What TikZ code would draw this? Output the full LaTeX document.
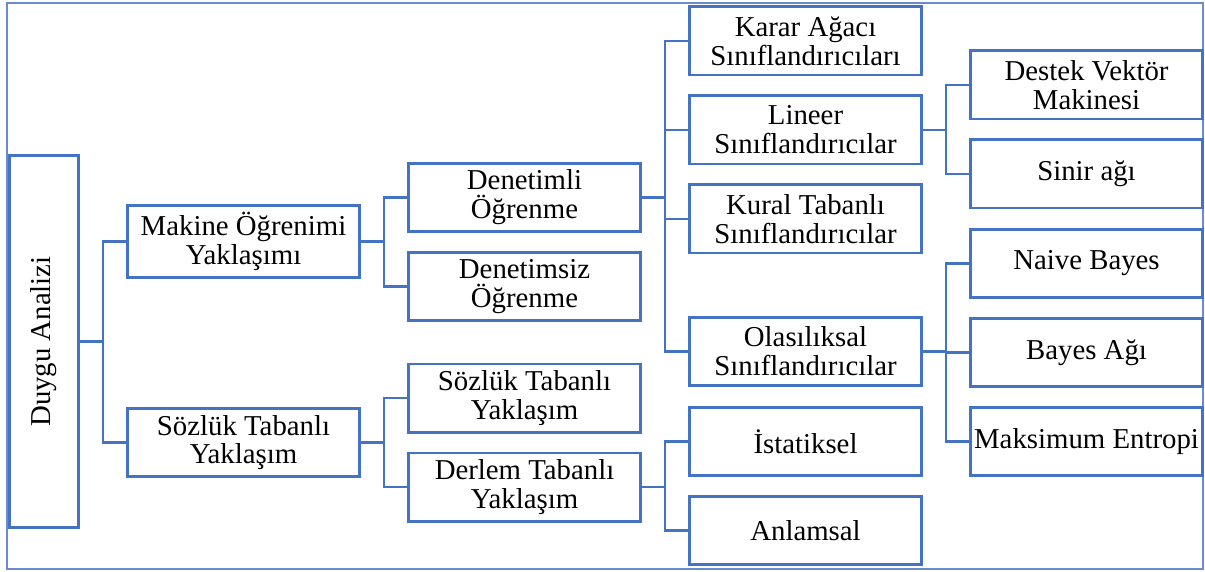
\documentclass[tikz,border=0pt]{standalone}
\usepackage{graphicx}
\usepackage{fontspec}
\setmainfont{Liberation Serif}
\usetikzlibrary{%
  positioning
}
\definecolor{boxblue}{HTML}{4472C4}
\definecolor{frameblue}{HTML}{6A8CCE}
\tikzstyle{tree}=[on grid,node distance=44.5pt,font=\fontsize{14.4}{14.4}\selectfont]
\tikzstyle{box}=[rectangle,draw=boxblue,line width=1.3pt,minimum width=116.2pt,minimum height=34.2pt,inner xsep=1pt,align=center]
\tikzstyle{conn}=[draw=boxblue,line width=1.3pt]

\begin{document}
\begin{tikzpicture}[tree]
  \useasboundingbox (0,0) rectangle (602.5pt,-286pt);
  \draw[frameblue,line width=0.9pt] (3.5pt,-1.5pt) rectangle (601.5pt,-284.5pt);
  \node[box,minimum width=34.7pt,minimum height=186.2pt] (duygu) at (22pt,-170.75pt) {\rotatebox{90}{Duygu Analizi}};
% first level
  \node[box,above right=50pt and 99.75pt of duygu] (makine) {Makine Öğrenimi\\Yaklaşımı};
  \node[box,below right=50.5pt and 99.75pt of duygu] (sozluk) {Sözlük Tabanlı\\Yaklaşım};
% second level
  \node[box,above right=22pt and 140.5pt of makine] (denetimli) {Denetimli\\Öğrenme};
  \node[box,below=of denetimli] (denetimsiz) {Denetimsiz\\Öğrenme};
  \node[box,above right=22.25pt and 140.5pt of sozluk] (sozlukt) {Sözlük Tabanlı\\Yaklaşım};
  \node[box,below=of sozlukt] (derlem) {Derlem Tabanlı\\Yaklaşım};
% third level
  \node[box,above right=78.25pt and 140.5pt of denetimli] (karar) {Karar Ağacı\\Sınıflandırıcıları};
  \node[box,below=of karar] (lineer) {Lineer\\Sınıflandırıcılar};
  \node[box,below=of lineer] (kural) {Kural Tabanlı\\Sınıflandırıcılar};
  \node[box,below=66.25pt of kural] (olasilik) {Olasılıksal\\Sınıflandırıcılar};
  \node[box,above right=22.75pt and 140.5pt of derlem] (istat) {İstatiksel};
  \node[box,below=of istat] (anlam) {Anlamsal};
% fourth level
  \node[box,above right=22.5pt and 140.5pt of lineer] (destek) {Destek Vektör\\Makinesi};
  \node[box,below=of destek] (sinir) {Sinir ağı};
  \node[box,above right=44pt and 140.5pt of olasilik] (naive) {Naive Bayes};
  \node[box,below=of naive] (bayes) {Bayes Ağı};
  \node[box,below=of bayes] (maksent) {Maksimum Entropi};
%
  \foreach \c in {makine,sozluk} \draw[conn] (duygu.east) -- ++(11.5pt,0) |- (\c.west);
  \foreach \c in {denetimli,denetimsiz} \draw[conn] (makine.east) -- ++(11.5pt,0) |- (\c.west);
  \foreach \c in {sozlukt,derlem} \draw[conn] (sozluk.east) -- ++(11.5pt,0) |- (\c.west);
  \foreach \c in {karar,lineer,kural,olasilik} \draw[conn] (denetimli.east) -- ++(11.5pt,0) |- (\c.west);
  \foreach \c in {istat,anlam} \draw[conn] (derlem.east) -- ++(11.5pt,0) |- (\c.west);
  \foreach \c in {destek,sinir} \draw[conn] (lineer.east) -- ++(11.5pt,0) |- (\c.west);
  \foreach \c in {naive,bayes,maksent} \draw[conn] (olasilik.east) -- ++(11.5pt,0) |- (\c.west);
\end{tikzpicture}
\end{document}
